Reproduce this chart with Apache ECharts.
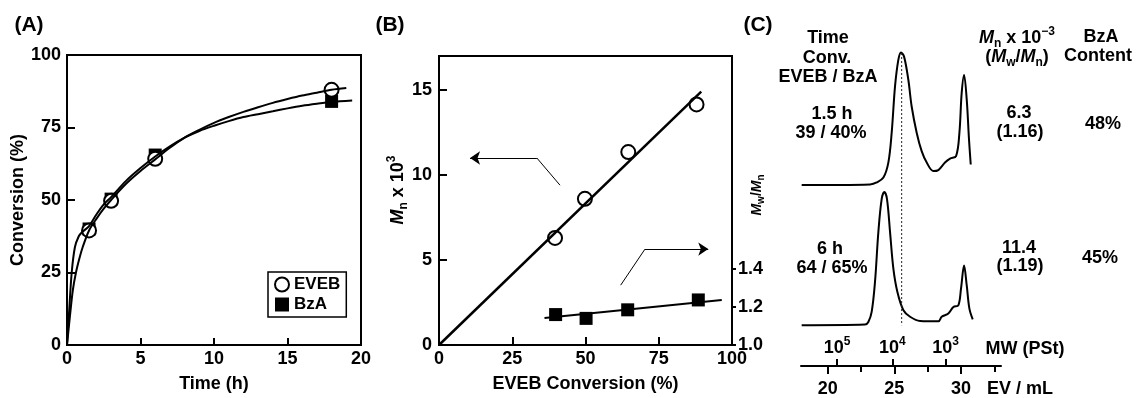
<!DOCTYPE html>
<html>
<head>
<meta charset="utf-8">
<script src="https://cdn.jsdelivr.net/npm/echarts@6/dist/echarts.min.js"></script>
<style>
  html, body { margin: 0; padding: 0; background: #fff; }
  #main { width: 1136px; height: 398px; }
</style>
</head>
<body>
<div id="main"></div>
<script>
// ---- (A) conversion vs time ----
const timePts = [1.5, 3, 6, 18];
const evebConv = [39.5, 49.7, 64.2, 88];
const bzaConv = [40, 50.3, 65.5, 84];
// fitted curves [time, conversion]
const evebCurve = [[0, 0], [0.2, 10], [0.4, 19], [0.61, 25], [0.85, 30], [1.07, 33.8], [1.5, 39.5], [2, 43.5], [2.5, 47], [3, 50], [4, 55.5], [5, 60], [6, 64], [7, 68], [8, 71.5], [9, 74.2], [10, 76.6], [11, 78.6], [12, 80.4], [13, 82], [14, 83.5], [15, 84.8], [16, 86], [17, 87], [18, 88], [19, 88.6]];
const bzaCurve = [[0, 0], [0.15, 12], [0.32, 25], [0.54, 33.8], [0.8, 37.5], [1.0, 38.8], [1.5, 41], [2, 45], [2.5, 48.5], [3, 51], [4, 56.5], [5, 61], [6, 65], [7, 68.5], [8, 71.5], [9, 73.8], [10, 75.6], [11, 77.2], [12, 78.6], [13, 79.6], [14, 80.6], [15, 81.6], [16, 82.5], [17, 83.2], [18, 83.8], [19.4, 84.3]];

// ---- (B) Mn and Mw/Mn vs EVEB conversion ----
const convB = [39.6, 49.8, 64.6, 87.9];
const mnB = [6.3, 8.6, 11.35, 14.15];
const convPdi = [39.8, 50.2, 64.4, 88.5];
const pdiB = [1.16, 1.14, 1.185, 1.237];
const mnFit = [[0, 0], [89.5, 14.9]];
const pdiFit = [[36, 1.142], [96.5, 1.237]];
const arrowLeft = [[41.3, 9.4], [33.4, 11.0], [10.6, 11.0]];
const arrowRight = [[62, 3.52], [70.3, 5.64], [91.9, 5.64]];
const pdiTicks = [1.0, 1.2, 1.4];
const mnTicks = [0, 5, 10, 15];

// ---- (C) GPC traces [EV (mL), signal] ----
const trace15h = [[18.05, 55.5], [23.18, 55.7], [23.68, 56.3], [24.18, 57.8], [24.55, 62.4], [24.8, 71.5], [25.05, 85.7], [25.3, 93.9], [25.5, 96.2], [25.73, 94.9], [26.05, 87.8], [26.3, 79.6], [26.68, 71.5], [27.05, 65.9], [27.43, 62.4], [27.93, 59.8], [28.3, 60.1], [28.8, 62.4], [29.18, 63.6], [29.63, 64.4], [29.88, 71.5], [30.05, 83.7], [30.23, 89.3], [30.43, 81.7], [30.6, 69.5], [30.73, 61.8]];
const trace6h = [[18.05, 12.5], [22.8, 12.7], [23.05, 13.5], [23.3, 16.6], [23.55, 25.8], [23.8, 41.0], [24.05, 51.2], [24.25, 53.4], [24.45, 51.2], [24.68, 41.0], [24.93, 29.8], [25.23, 22.7], [25.68, 17.1], [26.18, 15.1], [26.93, 13.8], [28.3, 13.7], [28.55, 15.1], [29.05, 16.1], [29.43, 18.1], [29.8, 18.6], [30.0, 23.7], [30.23, 30.8], [30.43, 24.7], [30.63, 17.6], [30.88, 14.3]];
const peakLine = [[25.55, 96], [25.55, 12.5]];
const evTicks = [20, 25, 30];
const evMinor = [22.5, 27.5, 32.5];
const mwTickEV = [20.7, 24.85, 28.85];
const mwExp = ['5', '4', '3'];

const FONT = 'Liberation Sans, Arial, Helvetica, sans-serif';
const black = '#000';

const chart = echarts.init(document.getElementById('main'));

const labelStyle = { color: black, fontFamily: FONT, fontWeight: 'bold', fontSize: 18 };
const nameStyle = { color: black, fontFamily: FONT, fontWeight: 'bold', fontSize: 18 };
const lineAx = { show: true, onZero: false, lineStyle: { color: black, width: 2 } };

function txt(x, y, text, size, extra) {
  return Object.assign({
    type: 'text', x: x, y: y,
    style: {
      text: text, fill: black, fontFamily: FONT, fontWeight: 'bold', fontSize: size || 18,
      align: 'center', verticalAlign: 'middle'
    }
  }, extra || {});
}

const richMath = {
  b: { fontFamily: FONT, fontWeight: 'bold', fontSize: 18, lineHeight: 24, color: black },
  i: { fontFamily: FONT, fontWeight: 'bold', fontStyle: 'italic', fontSize: 18, lineHeight: 24, color: black },
  sub: { fontFamily: FONT, fontWeight: 'bold', fontSize: 12, lineHeight: 14, verticalAlign: 'bottom', color: black },
  sup: { fontFamily: FONT, fontWeight: 'bold', fontSize: 12, lineHeight: 12, verticalAlign: 'top', color: black }
};

const arrowStyle = { color: black, width: 1, opacity: 1 };

const option = {
  animation: false,
  backgroundColor: '#fff',
  grid: [
    { left: 67, top: 55, width: 294, height: 294, show: true, borderColor: black, borderWidth: 2 },
    { left: 439, top: 56, width: 293, height: 293, show: true, borderColor: black, borderWidth: 2 },
    { left: 801, top: 40, width: 200, height: 327, show: false }
  ],
  legend: {
    data: ['EVEB', 'BzA'],
    orient: 'vertical',
    left: 268, top: 272,
    padding: [4, 6, 4, 6],
    itemGap: 3, itemWidth: 14, itemHeight: 14,
    borderColor: black, borderWidth: 1.5,
    textStyle: { color: black, fontFamily: FONT, fontWeight: 'bold', fontSize: 17 }
  },
  xAxis: [
    { // A
      gridIndex: 0, type: 'value', min: 0, max: 20, interval: 5,
      axisLine: lineAx, splitLine: { show: false },
      axisTick: { inside: true, length: 7, lineStyle: { color: black, width: 2 } },
      axisLabel: Object.assign({ margin: 5 }, labelStyle),
      name: 'Time (h)', nameLocation: 'middle', nameGap: 30, nameTextStyle: nameStyle
    },
    { // B
      gridIndex: 1, type: 'value', min: 0, max: 100, interval: 25,
      axisLine: lineAx, splitLine: { show: false },
      axisTick: { inside: true, length: 8, lineStyle: { color: black, width: 2 } },
      axisLabel: Object.assign({ margin: 5 }, labelStyle),
      name: 'EVEB Conversion (%)', nameLocation: 'middle', nameGap: 30, nameTextStyle: nameStyle
    },
    { // C: elution volume
      gridIndex: 2, type: 'value', min: 18, max: 33, position: 'bottom',
      axisLine: lineAx, splitLine: { show: false },
      axisTick: { customValues: evTicks, length: 8, lineStyle: { color: black, width: 2 } },
      axisLabel: Object.assign({ customValues: evTicks, margin: 14 }, labelStyle)
    },
    { // C: minor ticks
      gridIndex: 2, type: 'value', min: 18, max: 33, position: 'bottom',
      axisLine: { show: false }, splitLine: { show: false },
      axisTick: { customValues: evMinor, length: 6, lineStyle: { color: black, width: 2 } },
      axisLabel: { show: false }
    },
    { // C: MW scale
      gridIndex: 2, type: 'value', min: 18, max: 33, position: 'bottom',
      axisLine: { show: false }, splitLine: { show: false },
      axisTick: { customValues: mwTickEV, inside: true, length: 7, lineStyle: { color: black, width: 2 } },
      axisLabel: Object.assign({
        customValues: mwTickEV, inside: true, margin: 6, lineHeight: 24,
        formatter: function (v) { return '10{sup|' + mwExp[mwTickEV.indexOf(v)] + '}'; },
        rich: { sup: richMath.sup }
      }, labelStyle)
    }
  ],
  yAxis: [
    { // A
      gridIndex: 0, type: 'value', min: 0, max: 100, interval: 25,
      axisLine: lineAx, splitLine: { show: false },
      axisTick: { inside: true, length: 8, lineStyle: { color: black, width: 2 } },
      axisLabel: Object.assign({ margin: 6 }, labelStyle),
      name: 'Conversion (%)', nameLocation: 'middle', nameGap: 40, nameTextStyle: nameStyle
    },
    { // B left: Mn
      gridIndex: 1, type: 'value', min: 0, max: 17,
      axisLine: lineAx, splitLine: { show: false },
      axisTick: { customValues: mnTicks, inside: true, length: 8, lineStyle: { color: black, width: 2 } },
      axisLabel: Object.assign({ customValues: mnTicks, margin: 7 }, labelStyle)
    },
    { // B right: Mw/Mn
      gridIndex: 1, type: 'value', min: 1, max: 2.52, position: 'right',
      axisLine: lineAx, splitLine: { show: false },
      axisTick: { customValues: pdiTicks, length: 4, lineStyle: { color: black, width: 2 } },
      axisLabel: Object.assign({
        customValues: pdiTicks, margin: 6,
        formatter: function (v) { return v.toFixed(1); }
      }, labelStyle)
    },
    { gridIndex: 2, type: 'value', min: 0, max: 100, show: false }
  ],
  series: [
    // ---- A ----
    { name: 'EVEB fit', type: 'line', xAxisIndex: 0, yAxisIndex: 0, data: evebCurve, smooth: 0.3,
      symbol: 'none', lineStyle: { color: black, width: 2 } },
    { name: 'BzA fit', type: 'line', xAxisIndex: 0, yAxisIndex: 0, data: bzaCurve, smooth: 0.3,
      symbol: 'none', lineStyle: { color: black, width: 2 } },
    { name: 'BzA', type: 'scatter', xAxisIndex: 0, yAxisIndex: 0,
      data: timePts.map((t, i) => [t, bzaConv[i]]),
      symbol: 'rect', symbolSize: 13, itemStyle: { color: black, opacity: 1 } },
    { name: 'EVEB', type: 'scatter', xAxisIndex: 0, yAxisIndex: 0,
      data: timePts.map((t, i) => [t, evebConv[i]]),
      symbol: 'circle', symbolSize: 14, itemStyle: { color: '#fff', borderColor: black, borderWidth: 2, opacity: 1 } },
    // ---- B ----
    { name: 'Mn fit', type: 'line', xAxisIndex: 1, yAxisIndex: 1, data: mnFit,
      symbol: 'none', lineStyle: { color: black, width: 2.5 } },
    { name: 'Mn', type: 'scatter', xAxisIndex: 1, yAxisIndex: 1,
      data: convB.map((c, i) => [c, mnB[i]]),
      symbol: 'circle', symbolSize: 14, itemStyle: { color: '#fff', borderColor: black, borderWidth: 2, opacity: 1 } },
    { name: 'PDI fit', type: 'line', xAxisIndex: 1, yAxisIndex: 2, data: pdiFit,
      symbol: 'none', lineStyle: { color: black, width: 2 } },
    { name: 'PDI', type: 'scatter', xAxisIndex: 1, yAxisIndex: 2,
      data: convPdi.map((c, i) => [c, pdiB[i]]),
      symbol: 'rect', symbolSize: 13, itemStyle: { color: black, opacity: 1 } },
    // annotation arrows: slanted leg, then horizontal leg with arrow head
    { name: 'arrow legs', type: 'lines', coordinateSystem: 'cartesian2d', xAxisIndex: 1, yAxisIndex: 1,
      symbol: 'none', lineStyle: arrowStyle,
      data: [{ coords: arrowLeft.slice(0, 2) }, { coords: arrowRight.slice(0, 2) }] },
    { name: 'arrow heads', type: 'lines', coordinateSystem: 'cartesian2d', xAxisIndex: 1, yAxisIndex: 1,
      symbol: ['none', 'arrow'], symbolSize: [7, 10], lineStyle: arrowStyle,
      data: [{ coords: arrowLeft.slice(1) }, { coords: arrowRight.slice(1) }] },
    // ---- C ----
    { name: '1.5 h', type: 'line', xAxisIndex: 2, yAxisIndex: 3, data: trace15h, smooth: 0.35,
      symbol: 'none', lineStyle: { color: black, width: 2 } },
    { name: '6 h', type: 'line', xAxisIndex: 2, yAxisIndex: 3, data: trace6h, smooth: 0.35,
      symbol: 'none', lineStyle: { color: black, width: 2 } },
    { name: 'peak', type: 'line', xAxisIndex: 2, yAxisIndex: 3, data: peakLine,
      symbol: 'none', lineStyle: { color: '#222', width: 1, type: [2, 2] } }
  ],
  graphic: [
    txt(29, 25, '(A)', 21),
    txt(390, 25, '(B)', 21),
    txt(758, 25, '(C)', 21),
    // B axis titles
    {
      type: 'text', x: 398, y: 190, rotation: Math.PI / 2,
      style: { text: '{i|M}{sub|n}{b| x 10}{sup|3}', rich: richMath, align: 'center', verticalAlign: 'middle' }
    },
    {
      type: 'text', x: 757, y: 195, rotation: Math.PI / 2,
      style: {
        text: '{i|M}{sub|w}{b|/}{i|M}{sub|n}', align: 'center', verticalAlign: 'middle',
        rich: {
          b: { fontFamily: FONT, fontWeight: 'bold', fontSize: 14, lineHeight: 18, color: black },
          i: { fontFamily: FONT, fontWeight: 'bold', fontStyle: 'italic', fontSize: 14, lineHeight: 18, color: black },
          sub: { fontFamily: FONT, fontWeight: 'bold', fontSize: 10, lineHeight: 11, verticalAlign: 'bottom', color: black }
        }
      }
    },
    // C column texts
    txt(828, 38, 'Time'),
    txt(827, 58, 'Conv.'),
    txt(828, 77, 'EVEB / BzA'),
    txt(832, 114, '1.5 h'),
    txt(831, 133, '39 / 40%'),
    txt(830, 249, '6 h'),
    txt(832, 268, '64 / 65%'),
    {
      type: 'text', x: 1017, y: 38,
      style: { text: '{i|M}{sub|n}{b| x 10}{sup|\u22123}', rich: richMath, align: 'center', verticalAlign: 'middle' }
    },
    {
      type: 'text', x: 1017, y: 57,
      style: { text: '{b|(}{i|M}{sub|w}{b|/}{i|M}{sub|n}{b|)}', rich: richMath, align: 'center', verticalAlign: 'middle' }
    },
    txt(1019, 113, '6.3'),
    txt(1020, 132, '(1.16)'),
    txt(1019, 248, '11.4'),
    txt(1020, 266, '(1.19)'),
    txt(1101, 37, 'BzA'),
    txt(1098, 56, 'Content'),
    txt(1103, 124, '48%'),
    txt(1100, 258, '45%'),
    txt(1025, 349, 'MW (PSt)'),
    txt(1020, 389, 'EV / mL')
  ]
};

chart.setOption(option);
</script>
</body>
</html>
